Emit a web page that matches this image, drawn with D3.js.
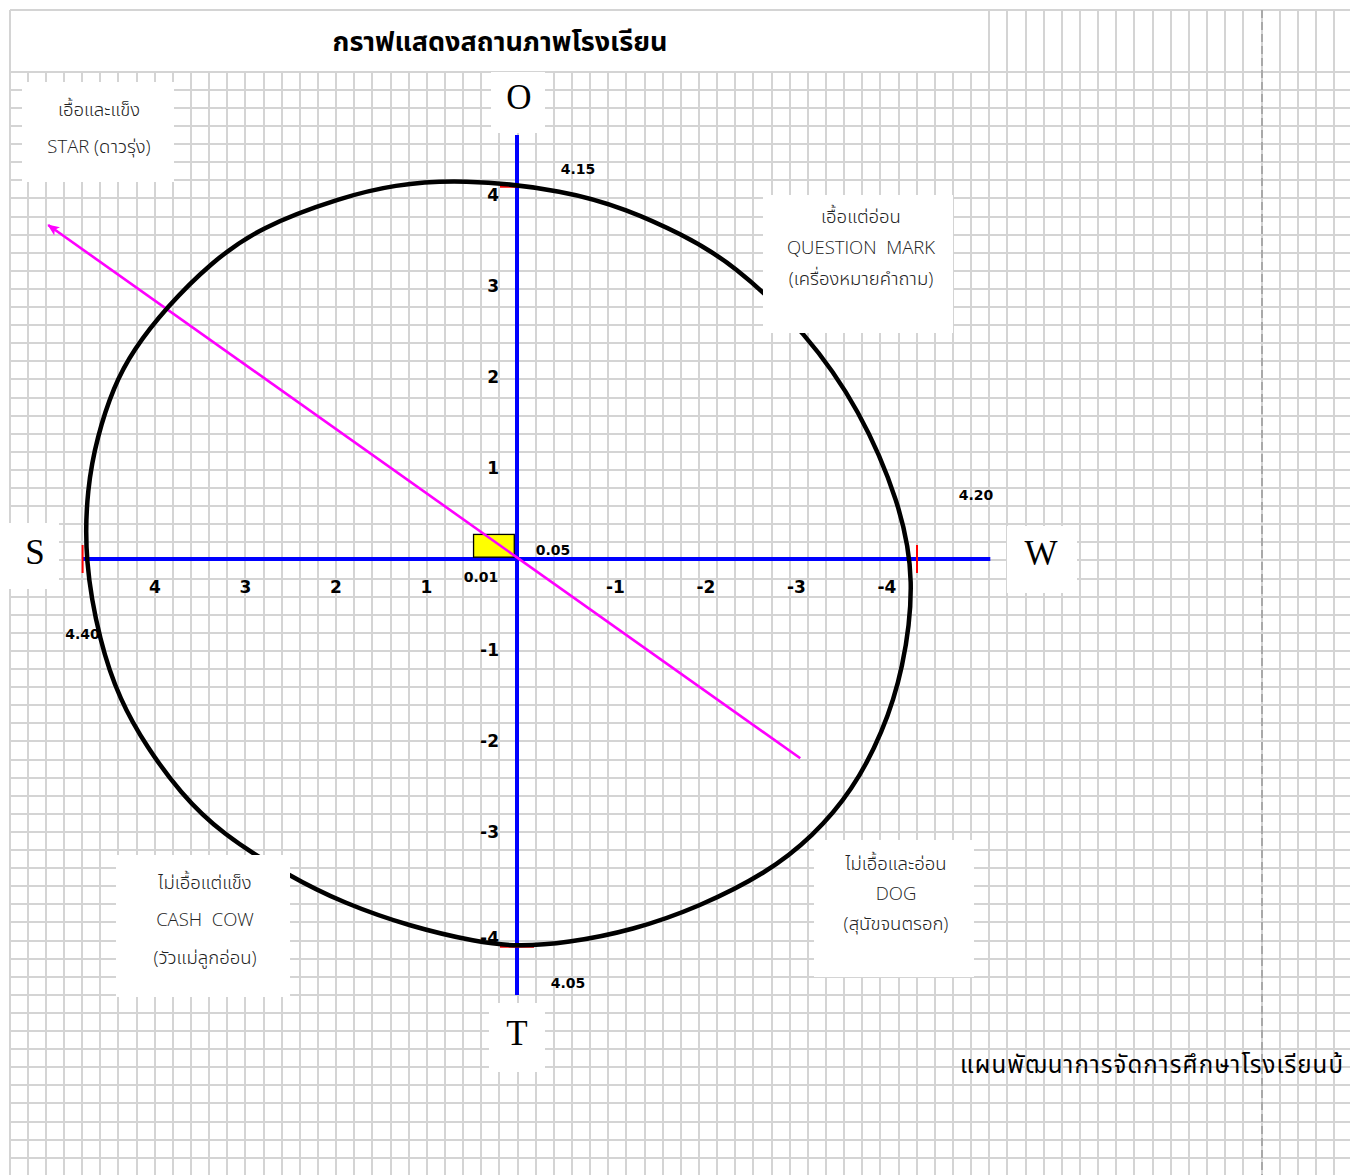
<!DOCTYPE html>
<html><head><meta charset="utf-8">
<script src="https://cdn.jsdelivr.net/npm/d3@7/dist/d3.min.js"></script>
<style>
body{margin:0;background:#fff;}
svg{display:block;}
</style>
</head><body>
<svg id="chart" width="1350" height="1175"></svg>
<script>
// ---------------- DATA ----------------
const chartTitle = "กราฟแสดงสถานภาพโรงเรียน";
const footerText = "แผนพัฒนาการจัดการศึกษาโรงเรียนบ้";
const xTickValues = [4, 3, 2, 1, -1, -2, -3, -4];
const yTickValues = [4, 3, 2, 1, -1, -2, -3, -4];
const swotLetters = ["S", "W", "O", "T"];
const swotScores = ["4.40", "4.20", "4.15", "4.05"];
const swotMarkerPos = [4.80, -4.42, 4.09, -4.26];   // S,W on x-axis; O,T on y-axis
const pointScores = ["0.05", "0.01"];
const pointRectX = [0.03, 0.48];
const pointRectY = [0.02, 0.27];
const strategyFrom = [-3.13, -2.19];
const strategyTo = [5.18, 3.67];
const axisXExtent = [4.80, -5.23];
const axisYExtent = [4.66, -4.79];
const curveX = [0.63, -0.55, -1.22, -1.80, -2.39, -3.20, -3.79, -4.23, -4.40, -4.27, -4.04, -3.71, -3.27, -2.76, -2.02, -1.28, -0.55, 0.00, 0.44, 1.18, 1.92, 2.51, 3.28, 3.72, 4.09, 4.39, 4.61, 4.78, 4.75, 4.64, 4.46, 4.24, 3.87, 3.39, 2.84, 1.92, 1.37];
const curveY = [4.18, 4.05, 3.84, 3.58, 3.25, 2.48, 1.64, 0.62, -0.23, -1.22, -1.91, -2.54, -3.05, -3.45, -3.82, -4.08, -4.22, -4.26, -4.21, -4.04, -3.78, -3.49, -3.01, -2.57, -2.07, -1.55, -0.92, -0.01, 0.79, 1.34, 1.89, 2.30, 2.77, 3.25, 3.65, 3.98, 4.11];
const quadrantTexts = [
  ["เอื้อและแข็ง", "STAR (ดาวรุ่ง)"],
  ["เอื้อแต่อ่อน", "QUESTION  MARK", "(เครื่องหมายคำถาม)"],
  ["ไม่เอื้อแต่แข็ง", "CASH  COW", "(วัวแม่ลูกอ่อน)"],
  ["ไม่เอื้อและอ่อน", "DOG", "(สุนัขจนตรอก)"]
];

// ---------------- LAYOUT ----------------
const W = 1350, H = 1175;
const thaiFont = "Tahoma, 'Noto Sans Thai', 'Noto Sans Thai UI', Loma, Garuda, Sarabun, 'Noto Sans', 'DejaVu Sans', sans-serif";
const numFont = "Tahoma, Verdana, 'DejaVu Sans', sans-serif";
const svg = d3.select("#chart");
const x = d3.scaleLinear().domain([-5, 5]).range([969.5, 64.5]);
const y = d3.scaleLinear().domain([-5, 5]).range([1014, 104]);

svg.append("rect").attr("width", W).attr("height", H).attr("fill", "#fff");

// spreadsheet grid
const colW = 18.145, rowH = 18.1, gx0 = 9.5, gy0 = 71.7, titleRight = 990;
const grid = svg.append("g").attr("stroke", "#d4d4d4").attr("stroke-width", 2);
d3.range(0, 76).map(k => Math.round(gx0 + k * colW)).filter(v => v <= W + 1).forEach((v, k) => {
  grid.append("line").attr("x1", v).attr("x2", v)
    .attr("y1", (v >= titleRight - 1 || k === 0) ? 10 : Math.round(gy0)).attr("y2", H);
});
grid.append("line").attr("x1", Math.round(gx0)).attr("x2", W).attr("y1", 10).attr("y2", 10);
d3.range(0, 70).map(k => Math.round(gy0 + k * rowH)).filter(v => v <= H + 1).forEach(v => {
  grid.append("line").attr("x1", Math.round(gx0)).attr("x2", W).attr("y1", v).attr("y2", v);
});
// page break
const pbx = Math.round(gx0 + 69 * colW);
svg.append("line").attr("x1", pbx).attr("x2", pbx)
  .attr("y1", 10).attr("y2", H).attr("stroke", "#9a9a9a").attr("stroke-width", 1.5)
  .attr("stroke-dasharray", "8,4");

// title
svg.append("text").attr("x", 500).attr("y", 42).attr("text-anchor", "middle")
  .attr("dominant-baseline", "central").attr("font-family", thaiFont)
  .attr("font-weight", "bold").attr("font-size", 27).attr("fill", "#000").text(chartTitle);

// footer
svg.append("text").attr("x", 960).attr("y", 1066)
  .attr("dominant-baseline", "central").attr("font-family", thaiFont)
  .attr("font-size", 24).attr("letter-spacing", 1.1).attr("fill", "#000").text(footerText);

// tick labels
const tickG = svg.append("g").attr("font-family", numFont).attr("font-weight", "bold")
  .attr("font-size", 17).attr("fill", "#000");
tickG.selectAll("text.xt").data(xTickValues).join("text").attr("class", "xt")
  .attr("x", d => x(d) + (d < 0 ? 8 : 0)).attr("y", y(0) + 28)
  .attr("text-anchor", "middle").attr("dominant-baseline", "central").text(d => d);
tickG.selectAll("text.yt").data(yTickValues).join("text").attr("class", "yt")
  .attr("x", x(0) - 18).attr("y", d => y(d) + (d === -4 ? 15 : 0))
  .attr("text-anchor", "end").attr("dominant-baseline", "central").text(d => d);

// score labels
const scoreOffsets = [[0, 75], [59, -64], [61, -18], [51, 36]];
const scoreG = svg.append("g").attr("font-family", numFont).attr("font-weight", "bold")
  .attr("font-size", 14).attr("fill", "#000");
swotScores.forEach((s, i) => {
  const mx = i < 2 ? x(swotMarkerPos[i]) : x(0);
  const my = i < 2 ? y(0) : y(swotMarkerPos[i]);
  scoreG.append("text").attr("x", mx + scoreOffsets[i][0]).attr("y", my + scoreOffsets[i][1])
    .attr("text-anchor", "middle").attr("dominant-baseline", "central").text(s);
});
scoreG.append("text").attr("x", x(0) + 36).attr("y", y(0) - 9)
  .attr("text-anchor", "middle").attr("dominant-baseline", "central").text(pointScores[0]);
scoreG.append("text").attr("x", x(0) - 36).attr("y", y(0) + 18)
  .attr("text-anchor", "middle").attr("dominant-baseline", "central").text(pointScores[1]);

// axes
svg.append("line").attr("x1", x(axisXExtent[0])).attr("x2", x(axisXExtent[1]))
  .attr("y1", y(0)).attr("y2", y(0)).attr("stroke", "#0000ff").attr("stroke-width", 4);
svg.append("line").attr("x1", x(0)).attr("x2", x(0))
  .attr("y1", y(axisYExtent[0])).attr("y2", y(axisYExtent[1]))
  .attr("stroke", "#0000ff").attr("stroke-width", 4);

// position rectangle
svg.append("rect").attr("x", x(pointRectX[1])).attr("y", y(pointRectY[1]))
  .attr("width", x(pointRectX[0]) - x(pointRectX[1]))
  .attr("height", y(pointRectY[0]) - y(pointRectY[1]))
  .attr("fill", "#ffff00").attr("stroke", "#000").attr("stroke-width", 1.3);

// strategy arrow
svg.append("defs").append("marker").attr("id", "ah").attr("viewBox", "0 0 12 10")
  .attr("refX", 11).attr("refY", 5).attr("markerWidth", 12).attr("markerHeight", 10)
  .attr("markerUnits", "userSpaceOnUse").attr("orient", "auto")
  .append("path").attr("d", "M0,0 L12,5 L0,10 L3,5 Z").attr("fill", "#ff00ff");
svg.append("line").attr("x1", x(strategyFrom[0])).attr("y1", y(strategyFrom[1]))
  .attr("x2", x(strategyTo[0])).attr("y2", y(strategyTo[1]))
  .attr("stroke", "#ff00ff").attr("stroke-width", 2.6).attr("marker-end", "url(#ah)");

// red score markers
const redG = svg.append("g").attr("stroke", "#ff0000").attr("stroke-width", 2);
swotMarkerPos.forEach((v, i) => {
  if (i < 2) redG.append("line").attr("x1", x(v)).attr("x2", x(v)).attr("y1", y(0) - 14).attr("y2", y(0) + 14);
  else redG.append("line").attr("x1", x(0) - 17).attr("x2", x(0) + 17).attr("y1", y(v)).attr("y2", y(v));
});

// SWOT outline (smoothed closed curve through the read points)
const pts = curveX.map((v, i) => [x(v), y(curveY[i])]);
svg.append("path").attr("d", d3.line().curve(d3.curveBasisClosed)(pts))
  .attr("fill", "none").attr("stroke", "#000").attr("stroke-width", 4.5);

// quadrant boxes
const qBoxes = [
  {x: 22, y: 82, w: 152, h: 100, cx: 99, lines: [108, 145]},
  {x: 763, y: 195, w: 190, h: 138, cx: 861, lines: [215, 246, 277]},
  {x: 116, y: 855, w: 174, h: 142, cx: 205, lines: [881, 918, 956]},
  {x: 814, y: 840, w: 160, h: 137, cx: 896, lines: [862, 892, 922]}
];
qBoxes.forEach((b, i) => {
  svg.append("rect").attr("x", b.x).attr("y", b.y).attr("width", b.w).attr("height", b.h).attr("fill", "#fff");
  quadrantTexts[i].forEach((t, j) => {
    svg.append("text").attr("x", b.cx).attr("y", b.lines[j]).attr("text-anchor", "middle")
      .attr("dominant-baseline", "central").attr("font-family", "'Open Sans', " + thaiFont)
      .attr("font-weight", 300).attr("font-size", 18.5).attr("fill", "#222")
      .style("white-space", "pre").text(t);
  });
});

// SWOT letter boxes
const lBoxes = [
  {x: 8, y: 523, w: 51, h: 66, cx: 35, cy: 552},
  {x: 1007, y: 526, w: 70, h: 67, cx: 1041, cy: 553},
  {x: 491, y: 72, w: 54, h: 61, cx: 519, cy: 97},
  {x: 489, y: 1003, w: 56, h: 69, cx: 517, cy: 1033}
];
lBoxes.forEach((b, i) => {
  svg.append("rect").attr("x", b.x).attr("y", b.y).attr("width", b.w).attr("height", b.h).attr("fill", "#fff");
  svg.append("text").attr("x", b.cx).attr("y", b.cy).attr("text-anchor", "middle")
    .attr("dominant-baseline", "central").attr("font-family", "'Liberation Serif', 'Times New Roman', serif")
    .attr("font-size", 35).attr("fill", "#000").text(swotLetters[i]);
});
</script>
</body></html>
